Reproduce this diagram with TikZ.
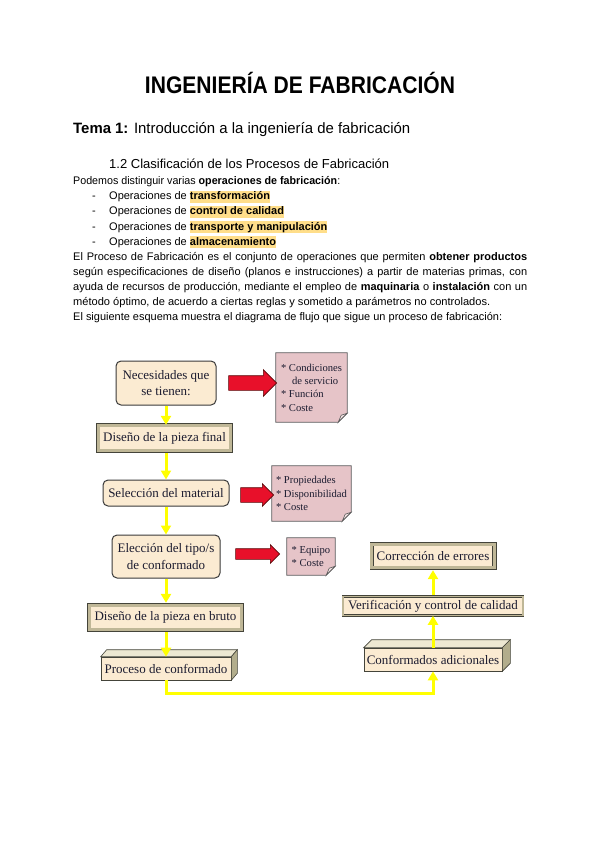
\documentclass[tikz,border=0pt]{standalone}
\usepackage{fontspec}
\usepackage{graphicx}
\setmainfont{Liberation Sans}
\newfontfamily\dfont{Liberation Serif}
\usetikzlibrary{arrows.meta,shapes.arrows,calc,backgrounds}
\definecolor{cream}{HTML}{FBEBD2}
\definecolor{boxline}{HTML}{3A3A3A}
\definecolor{bevel}{HTML}{BFB797}
\definecolor{bevdark}{HTML}{44443A}
\definecolor{dtext}{HTML}{1C1C30}
\definecolor{notefill}{HTML}{E6C4C8}
\definecolor{noteline}{HTML}{5A5A5A}
\definecolor{foldfill}{HTML}{F3E2E2}
\definecolor{arrred}{HTML}{E8102A}
\definecolor{arrdark}{HTML}{5A0A0A}
\definecolor{yel}{HTML}{FFFF00}
\definecolor{hlcol}{HTML}{FFDE8A}
\definecolor{topface}{HTML}{EDE8D2}
\definecolor{sideface}{HTML}{B2AD8C}
\newcommand{\hlw}[1]{{\setlength{\fboxsep}{0pt}\colorbox{hlcol}{\rule[-3pt]{0pt}{12pt}\textbf{#1}}}}
\newcommand{\fitw}[2]{\resizebox{#1}{\height}{#2}}
\begin{document}
\begin{tikzpicture}[x=1pt,y=-1pt,
  body/.style={anchor=base west, inner sep=0pt, font=\fontsize{11}{11}\selectfont},
  dbox/.style={draw=boxline, fill=cream, text=dtext, font=\dfont\fontsize{13}{16.5}\selectfont, align=center, inner sep=0pt},
  rbox/.style={dbox, rounded corners=5pt, line width=1pt},
  bbox/.style={dbox, draw=bevdark, double=bevel, double distance=3pt, line width=0.7pt},
  thinbox/.style={dbox, draw=bevdark, double=bevel, double distance=1.5pt, line width=0.6pt},
  cbox/.style={dbox, draw=bevdark, line width=0.6pt},
  notetext/.style={inner sep=0pt, text=dtext, font=\dfont\fontsize{10.6}{13.4}\selectfont, align=left},
  notepaper/.style={fill=notefill, draw=noteline, line width=0.8pt},
  redarr/.style={single arrow, fill=arrred, draw=arrdark, line width=0.6pt, inner xsep=0pt},
  yflow/.style={draw=yel, line width=3pt, -{Triangle[width=10pt,length=9pt]}}
]
\useasboundingbox (0,0) rectangle (600,848);
\begin{scope}[on background layer]
\fill[white] (0,0) rectangle (600,848);
\end{scope}

% ---------- header text ----------
\node[anchor=base, inner sep=0pt, font=\fontsize{24}{24}\selectfont\bfseries] (title) at (300,94)
  {\fitw{310pt}{INGENIERÍA DE FABRICACIÓN}};
\node[anchor=base west, inner sep=0pt, font=\fontsize{15}{15}\selectfont] (tema) at (73,134)
  {\fitw{337pt}{\textbf{Tema 1:} Introducción a la ingeniería de fabricación}};
\node[anchor=base west, inner sep=0pt, font=\fontsize{13}{13}\selectfont] (sec) at (109,168)
  {\fitw{280pt}{1.2 Clasificación de los Procesos de Fabricación}};
\node[body] (pod) at (73,184) {\fitw{267pt}{Podemos distinguir varias \textbf{operaciones de fabricación}:}};
\node[body] (d1) at (92,199.5) {-};
\node[body] (d2) at (92,214.7) {-};
\node[body] (d3) at (92,230) {-};
\node[body] (d4) at (92,245.2) {-};
\node[body] (l1) at (109,199.5) {Operaciones de \hlw{transformación}};
\node[body] (l2) at (109,214.7) {Operaciones de \hlw{control de calidad}};
\node[body] (l3) at (109,230) {Operaciones de \hlw{transporte y manipulación}};
\node[body] (l4) at (109,245.2) {Operaciones de \hlw{almacenamiento}};
\node[body] (p1) at (73,260.5) {\makebox[454pt][s]{El Proceso de Fabricación es el conjunto de operaciones que permiten \textbf{obtener productos}}};
\node[body] (p2) at (73,275.5) {\makebox[454pt][s]{según especificaciones de diseño (planos e instrucciones) a partir de materias primas, con}};
\node[body] (p3) at (73,290.5) {\makebox[454pt][s]{ayuda de recursos de producción, mediante el empleo de \textbf{maquinaria} o \textbf{instalación} con un}};
\node[body] (p4) at (73,305.2) {\fitw{417pt}{método óptimo, de acuerdo a ciertas reglas y sometido a parámetros no controlados.}};
\node[body] (p5) at (73,320) {\fitw{429pt}{El siguiente esquema muestra el diagrama de flujo que sigue un proceso de fabricación:}};

% ---------- diagram ----------
\coordinate (col) at (166,0);
\coordinate (bot) at (0,693);

\node[rbox, minimum width=100pt, minimum height=44pt] (nec) at (166,383) {Necesidades que\\se tienen:};
\node[bbox, minimum width=132.6pt, minimum height=25.6pt] (dfin) at (164.5,438) {Diseño de la pieza final};
\node[rbox, minimum width=126pt, minimum height=26pt] (sel) at (166,493) {Selección del material};
\node[rbox, minimum width=108pt, minimum height=43pt] (ele) at (166,556.5) {Elección del tipo/s\\de conformado};
\node[bbox, minimum width=152.6pt, minimum height=24.6pt] (dbru) at (165.5,617.5) {Diseño de la pieza en bruto};
\node[cbox, minimum width=130pt, minimum height=23pt] (proc) at (166,668.5) {Proceso de conformado};
\filldraw[fill=topface, draw=bevdark, line width=0.6pt] (proc.north west) -- ($(proc.north west)+(6,-7)$) -- ($(proc.north east)+(6,-7)$) -- (proc.north east) -- cycle;
\filldraw[fill=sideface, draw=bevdark, line width=0.6pt] (proc.north east) -- ($(proc.north east)+(6,-7)$) -- ($(proc.south east)+(6,-7)$) -- (proc.south east) -- cycle;

\node[bbox, minimum width=122.6pt, minimum height=23.6pt] (corr) at (433,556) {Corrección de errores};
\node[thinbox, minimum width=180pt, minimum height=19pt] (veri) at (433,606) {Verificación y control de calidad};
\node[cbox, minimum width=138pt, minimum height=23pt] (conf) at (433,659.5) {Conformados adicionales};
\filldraw[fill=topface, draw=bevdark, line width=0.6pt] (conf.north west) -- ($(conf.north west)+(8,-8)$) -- ($(conf.north east)+(8,-8)$) -- (conf.north east) -- cycle;
\filldraw[fill=sideface, draw=bevdark, line width=0.6pt] (conf.north east) -- ($(conf.north east)+(8,-8)$) -- ($(conf.south east)+(8,-8)$) -- (conf.south east) -- cycle;

% red arrows
\node[redarr, minimum height=48pt, inner ysep=7pt, single arrow head extend=6pt] (a1) at (249,383) {};
\node[redarr, minimum height=33pt, inner ysep=7pt, single arrow head extend=4pt] (a2) at (253.5,495) {};
\node[redarr, minimum height=44pt, inner ysep=5pt, single arrow head extend=4pt] (a3) at (255,554) {};

% notes
\node[notetext, minimum width=71pt, minimum height=69pt] (n1) at (311.5,387.5)
  {* Condiciones\\\hspace*{11pt}de servicio\\* Función\\* Coste};
\node[notetext, minimum width=79pt, minimum height=55pt] (n2) at (311.5,493.5)
  {* Propiedades\\* Disponibilidad\\* Coste};
\node[notetext, minimum width=48pt, minimum height=37pt] (n3) at (311,556.5)
  {* Equipo\\* Coste};
\begin{scope}[on background layer]
\foreach \n in {n1,n2,n3}{
  \filldraw[notepaper] (\n.north west) -- (\n.north east) -- ($(\n.south east)+(0,-9)$) -- ($(\n.south east)+(-9,0)$) -- (\n.south west) -- cycle;
  \filldraw[fill=foldfill, draw=noteline, line width=0.6pt] ($(\n.south east)+(0,-9)$) -- ($(\n.south east)+(-9,0)$) -- ($(\n.south east)+(-6,-7)$) -- cycle;
}
\end{scope}

% yellow flow
\draw[yflow] (nec.south -| col) -- (dfin.north -| col);
\draw[yflow, shorten <=2pt] (dfin.south -| col) -- (sel.north -| col);
\draw[yflow] (sel.south -| col) -- (ele.north -| col);
\draw[yflow, shorten >=2pt] (ele.south -| col) -- (dbru.north -| col);
\draw[yflow, shorten <=2pt] (dbru.south -| col) -- (proc.north -| col);
\draw[yflow] (proc.south -| col) -- (col |- bot) -| (conf.south);
\draw[yflow] (conf.north) -- (veri.south);
\draw[yflow, shorten <=1pt, shorten >=2pt] (veri.north) -- (corr.south);
\end{tikzpicture}
\end{document}
